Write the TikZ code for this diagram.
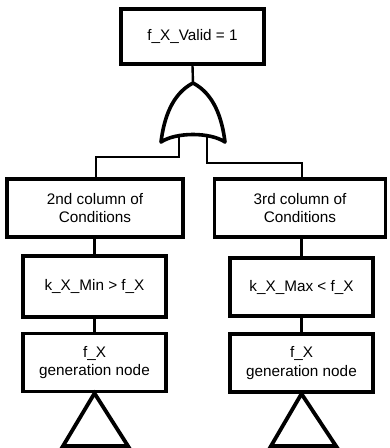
\documentclass[tikz,border=0pt]{standalone}
\usepackage{fontspec}
\setmainfont{Liberation Sans}
\begin{document}
\begin{tikzpicture}[x=1pt,y=-1pt,
  box/.style={draw, line width=3.6pt, rectangle, align=center,
    inner sep=0pt, font=\fontsize{15.3}{18.5}\selectfont},
  wire/.style={line width=2.4pt},
  gatestyle/.style={line width=3.6pt, line join=round},
  tri/.style={line width=3.8pt, line join=miter}]
\useasboundingbox (0,0) rectangle (389,448);

% event boxes
\node[box, minimum width=143pt, minimum height=55pt] (top) at (192.5,36.5) {f\_X\_Valid = 1};
\node[box, minimum width=176pt, minimum height=58pt] (c2) at (95,208) {2nd column of\\Conditions};
\node[box, minimum width=171pt, minimum height=58pt] (c3) at (300,208) {3rd column of\\Conditions};
\node[box, minimum width=143pt, minimum height=61pt] (kmin) at (94.5,286.5) {k\_X\_Min > f\_X};
\node[box, minimum width=143pt, minimum height=58pt] (gen1) at (94.5,362.5) {f\_X\\generation node};
\node[box, minimum width=143pt, minimum height=58pt] (kmax) at (301.5,287) {k\_X\_Max < f\_X};
\node[box, minimum width=143pt, minimum height=58pt] (gen2) at (301.5,363) {f\_X\\generation node};

% OR gate
\coordinate (gout) at (193,83);
\coordinate (ginl) at (179,137);
\coordinate (ginr) at (207,137);
\draw[gatestyle] (gout) .. controls (214,94) and (222,118) .. (225,142)
  .. controls (210,132) and (176,132) .. (161,142)
  .. controls (164,118) and (172,94) .. (gout) -- cycle;

% connectors
\draw[wire] (top.south) -- (gout);
\draw[wire] (ginl) |- (96,157) coordinate (lk) -- (lk |- c2.north);
\draw[wire] (ginr) |- (302,163) coordinate (rk) -- (rk |- c3.north);
\draw[wire] (c2.south -| kmin.north) -- (kmin.north);
\draw[wire] (kmin.south) -- (gen1.north);
\draw[wire] (c3.south -| kmax.north) -- (kmax.north);
\draw[wire] (kmax.south) -- (gen2.north);

% transfer triangles
\draw[tri] (gen1.south) -- (128,446) -- (63,446) -- cycle;
\draw[tri] (gen2.south) -- (336,446) -- (271,446) -- cycle;
\end{tikzpicture}
\end{document}
